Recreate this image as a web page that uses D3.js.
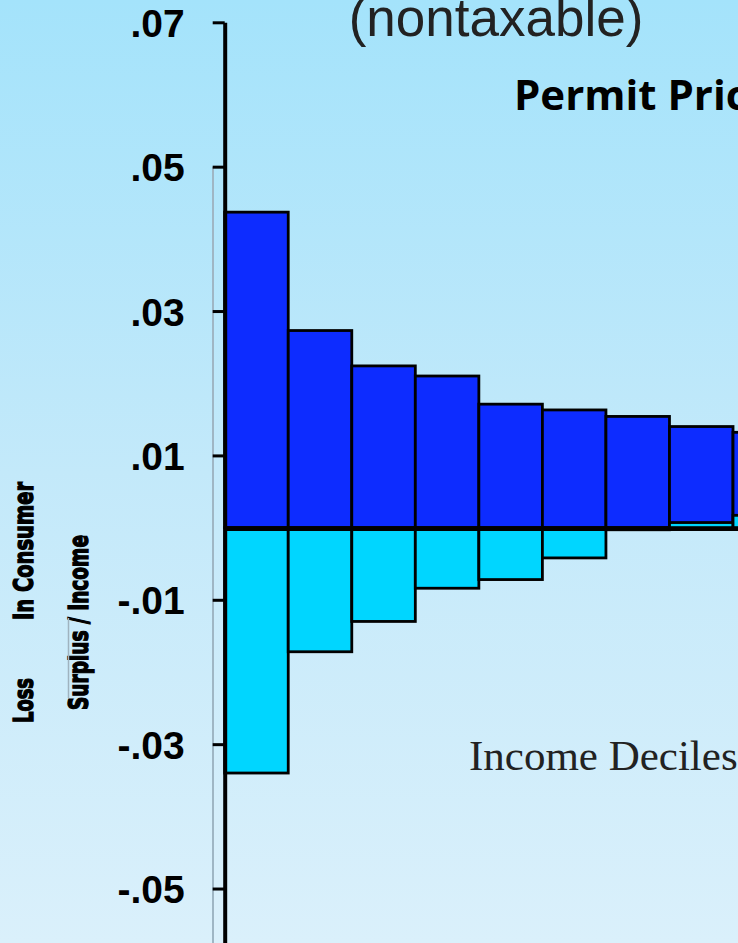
<!DOCTYPE html>
<html>
<head>
<meta charset="utf-8">
<script src="https://cdn.jsdelivr.net/npm/d3@7/dist/d3.min.js"></script>
<style>
  html, body { margin: 0; padding: 0; overflow: hidden; }
  svg { display: block; }
</style>
</head>
<body>
<div id="chart"></div>
<script>
// Income deciles (lowest to highest)
const deciles = ["1", "2", "3", "4", "5", "6", "7", "8", "9", "10"];
// Loss in consumer surplus as a share of income
const lossValues = [0.0437, 0.0273, 0.0224, 0.0210, 0.0171, 0.0163, 0.0154, 0.0140, 0.0132, 0.0121];
// Net effect after the permit revenue is returned (negative = net gain)
const netValues = [-0.0340, -0.0172, -0.0130, -0.0084, -0.0072, -0.0042, -0.0003, 0.0007, 0.0017, 0.0026];
// Y-axis ticks and their labels
const tickValues = [0.07, 0.05, 0.03, 0.01, -0.01, -0.03, -0.05];
const tickLabels = [".07", ".05", ".03", ".01", "-.01", "-.03", "-.05"];

const W = 738, H = 943;
const svg = d3.select("#chart").append("svg")
  .attr("width", W).attr("height", H);

// slide background
const defs = svg.append("defs");
const grad = defs.append("linearGradient")
  .attr("id", "bg").attr("x1", 0).attr("y1", 0).attr("x2", 0).attr("y2", 1);
grad.append("stop").attr("offset", "0%").attr("stop-color", "#a4e3fb");
grad.append("stop").attr("offset", "50%").attr("stop-color", "#c3e9fa");
grad.append("stop").attr("offset", "100%").attr("stop-color", "#daf0fb");
svg.append("rect").attr("width", W).attr("height", H).attr("fill", "url(#bg)");

const x = d3.scaleBand().domain(deciles).range([224.7, 860.1]).padding(0);
const y = d3.scaleLinear().domain([-0.07, 0.07]).range([1032.9, 22.3]);

// faint guide line left of the axis
svg.append("line")
  .attr("x1", 213).attr("x2", 213)
  .attr("y1", y(0.05)).attr("y2", H)
  .attr("stroke", "#9fb6c4").attr("stroke-width", 2);

// loss bars
svg.append("g").selectAll("rect").data(deciles).join("rect")
  .attr("x", d => x(d))
  .attr("width", x.bandwidth())
  .attr("y", (d, i) => y(Math.max(0, lossValues[i])))
  .attr("height", (d, i) => Math.abs(y(lossValues[i]) - y(0)))
  .attr("fill", "#0d2cff")
  .attr("stroke", "#000").attr("stroke-width", 2.8);

// net bars drawn over them
svg.append("g").selectAll("rect").data(deciles).join("rect")
  .attr("x", d => x(d))
  .attr("width", x.bandwidth())
  .attr("y", (d, i) => y(Math.max(0, netValues[i])))
  .attr("height", (d, i) => Math.abs(y(netValues[i]) - y(0)))
  .attr("fill", "#00d6ff")
  .attr("stroke", "#000").attr("stroke-width", 2.8);

// zero line
svg.append("line")
  .attr("x1", x.range()[0]).attr("x2", x.range()[1])
  .attr("y1", y(0) + 1.5).attr("y2", y(0) + 1.5)
  .attr("stroke", "#000").attr("stroke-width", 4);

// y axis
const yAxis = d3.axisLeft(y)
  .tickValues(tickValues)
  .tickFormat((d, i) => tickLabels[i])
  .tickSizeInner(12).tickSizeOuter(0).tickPadding(28);
const gy = svg.append("g")
  .attr("transform", `translate(${x.range()[0]},0)`)
  .call(yAxis);
gy.select(".domain").attr("stroke", "#000").attr("stroke-width", 4);
gy.selectAll(".tick line").attr("stroke", "#000").attr("stroke-width", 3);
gy.selectAll(".tick text")
  .attr("fill", "#000")
  .attr("font-family", "'Liberation Sans', Arial, sans-serif")
  .attr("font-weight", "bold")
  .attr("font-size", 39)
  .attr("dy", "0.36em");

// y-axis title, two rotated lines
const ytitle = [
  { text: "Loss", bx: 33, start: 723, len: 45 },
  { text: "In Consumer", bx: 33, start: 620, len: 138 },
  { text: "Surplus / Income", bx: 88, start: 710, len: 175 }
];
svg.append("g").selectAll("text").data(ytitle).join("text")
  .attr("transform", d => `translate(${d.bx},${d.start}) rotate(-90)`)
  .attr("font-family", "'DejaVu Sans', sans-serif")
  .attr("font-weight", "bold")
  .attr("font-size", 27)
  .attr("textLength", d => d.len)
  .attr("lengthAdjust", "spacingAndGlyphs")
  .attr("fill", "#000")
  .attr("stroke", "#000").attr("stroke-width", 1.4)
  .text(d => d.text);
svg.append("line")
  .attr("x1", 68.5).attr("x2", 68.5).attr("y1", 618).attr("y2", 698)
  .attr("stroke", "#9fb3bf").attr("stroke-width", 1.5);

// titles
svg.append("text")
  .attr("x", 496).attr("y", 36)
  .attr("text-anchor", "middle")
  .attr("font-family", "'Liberation Sans', Arial, sans-serif")
  .attr("font-size", 53)
  .attr("fill", "#222")
  .text("(nontaxable)");

svg.append("text")
  .attr("x", 514).attr("y", 110)
  .attr("font-family", "'Open Sans', sans-serif")
  .attr("font-weight", "bold")
  .attr("font-size", 42)
  .attr("fill", "#000")
  .text("Permit Price");

svg.append("text")
  .attr("x", 469).attr("y", 770)
  .attr("font-family", "'Liberation Serif', 'Times New Roman', serif")
  .attr("font-size", 43)
  .attr("fill", "#222")
  .text("Income Deciles");
</script>
</body>
</html>
